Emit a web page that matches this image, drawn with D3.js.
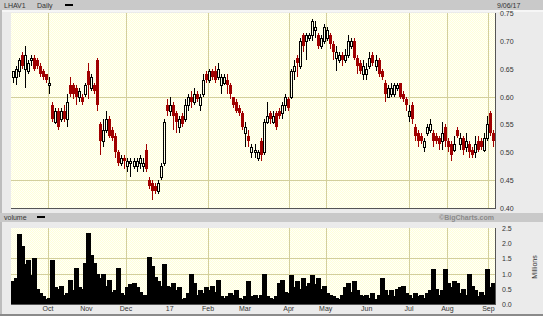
<!DOCTYPE html>
<html><head><meta charset="utf-8">
<script src="https://cdn.jsdelivr.net/npm/d3@7"></script>
<style>html,body{margin:0;padding:0;background:#ebebeb;} svg{display:block;}</style>
</head><body><svg id="c" width="543" height="316"></svg>
<script>
// ---------- DATA ----------
const open = [.635,.635,.645,.675,.65,.645,.665,.67,.665,.655, .645,.64,.62,.585,.555,.575,.56,.575,.56,.62,
 .62,.615,.6,.6,.605,.645,.615,.62,.665,.55, .52,.54,.56,.54,.53,.5,.48,.49,.475,.48,
 .475,.475,.48,.475,.505,.45,.445,.44,.43,.455, .48,.585,.575,.585,.57,.545,.565,.56,.585,.6,
 .59,.605,.585,.605,.64,.63,.645,.645,.635,.62, .625,.63,.62,.6,.59,.58,.57,.535,.53,.5,
 .5,.49,.52,.5,.555,.57,.555,.57,.575,.57, .585,.595,.6,.645,.67,.655,.71,.7,.705,.71,
 .72,.71,.69,.7,.705,.71,.695,.67,.665,.675, .665,.675,.69,.7,.67,.66,.64,.64,.655,.675,
 .655,.665,.645,.625,.6,.605,.605,.615,.625,.605, .595,.565,.585,.545,.535,.53,.51,.535,.54,.535,
 .53,.525,.52,.545,.52,.515,.505,.54,.515,.525, .51,.515,.505,.5,.52,.52,.505,.525,.57,.535];
const high = [.645,.655,.67,.68,.69,.665,.675,.675,.67,.66, .65,.64,.635,.59,.58,.58,.58,.585,.605,.635,
 .625,.62,.615,.605,.625,.66,.64,.625,.67,.555, .56,.575,.565,.545,.535,.505,.495,.495,.49,.49,
 .49,.49,.495,.49,.515,.455,.45,.445,.45,.48, .56,.595,.6,.59,.575,.565,.57,.595,.605,.61,
 .615,.61,.605,.64,.645,.65,.65,.655,.66,.64, .64,.64,.625,.6,.595,.585,.575,.555,.54,.515,
 .515,.505,.525,.56,.59,.575,.575,.575,.58,.59, .605,.6,.65,.665,.675,.705,.715,.715,.715,.74,
 .735,.715,.71,.73,.725,.715,.7,.69,.68,.68, .685,.71,.705,.705,.675,.665,.665,.66,.68,.68,
 .675,.67,.65,.63,.62,.625,.625,.625,.625,.61, .6,.585,.59,.55,.54,.535,.525,.55,.56,.54,
 .535,.53,.555,.55,.525,.52,.53,.545,.535,.53, .535,.52,.51,.53,.53,.525,.535,.565,.575,.54];
const low = [.625,.62,.635,.65,.615,.64,.655,.645,.65,.635, .63,.625,.605,.555,.55,.54,.555,.555,.545,.6,
 .595,.585,.59,.585,.6,.595,.61,.605,.575,.495, .51,.535,.525,.52,.49,.475,.475,.47,.465,.455,
 .47,.465,.47,.465,.465,.435,.415,.425,.425,.45, .475,.565,.565,.54,.535,.535,.545,.555,.575,.58,
 .585,.59,.575,.6,.625,.625,.63,.625,.63,.605, .62,.605,.595,.58,.57,.565,.54,.51,.51,.49,
 .49,.485,.485,.495,.55,.55,.55,.54,.56,.56, .575,.575,.595,.63,.635,.65,.68,.665,.7,.7,
 .705,.685,.685,.695,.7,.685,.665,.645,.66,.655, .66,.67,.685,.665,.64,.64,.63,.63,.65,.655,
 .645,.635,.63,.59,.6,.6,.6,.61,.595,.59, .575,.555,.55,.52,.51,.515,.5,.53,.535,.51,
 .515,.505,.505,.51,.5,.485,.5,.525,.505,.495, .5,.49,.49,.49,.5,.505,.5,.52,.53,.51];
const close = [.645,.65,.665,.655,.675,.66,.67,.65,.655,.64, .635,.63,.625,.56,.575,.545,.575,.56,.59,.605,
 .605,.6,.61,.59,.62,.62,.635,.61,.585,.52, .54,.56,.53,.525,.5,.48,.49,.485,.485,.485,
 .485,.485,.49,.48,.47,.44,.43,.43,.445,.475, .555,.575,.585,.565,.555,.56,.55,.585,.6,.59,
 .605,.595,.6,.63,.63,.645,.635,.63,.65,.635, .635,.62,.605,.585,.575,.57,.545,.545,.52,.51,
 .505,.5,.495,.555,.565,.56,.565,.545,.565,.585, .6,.58,.645,.655,.66,.7,.69,.71,.71,.735,
 .725,.69,.705,.725,.72,.695,.68,.68,.675,.665, .675,.7,.7,.67,.655,.645,.655,.65,.67,.66,
 .665,.64,.635,.605,.615,.615,.62,.62,.6,.595, .585,.575,.56,.53,.52,.52,.52,.545,.55,.52,
 .52,.515,.535,.52,.51,.495,.515,.53,.525,.505, .52,.5,.495,.515,.505,.51,.525,.55,.535,.52];
const volume = [.75,.85,2.3,1.9,1.3,1.45,.95,1.5,.5,.35, .25,.15,.2,1.45,.55,.5,.6,.3,.35,.8,
 .45,1.2,.55,.5,1.35,2.35,1.6,1.35,1.0,.85, 1.0,.6,.8,.4,.45,1.2,.35,.3,.55,.65,
 .7,.55,.4,.3,.3,1.55,1.25,.9,.75,.6, 1.3,.6,.55,.7,.45,.55,.15,.2,.35,1.0,
 .7,.3,.45,.35,.55,.45,.6,.4,.8,.25, .2,.25,.35,.3,.45,.2,.15,.25,.75,.25,
 .3,.2,.3,1.0,.25,.2,.15,.25,.7,.8, .4,.35,.95,.55,.75,.5,.85,.6,.7,.95,
 .65,.85,.5,.6,.35,.3,.25,.2,.15,.3, .55,.7,.4,.75,.45,.3,.25,.3,.2,.35,
 .15,.3,.85,.45,.3,.45,.25,.5,.55,.6, .35,.3,.2,.35,.25,.3,.2,.35,.45,1.15,
 .5,.3,.45,1.15,.7,.55,.75,.7,.35,.5, .3,1.0,.6,.45,.25,.4,.3,1.15,.55,.7];
const monthLabels = ["Oct","Nov","Dec","17","Feb","Mar","Apr","May","Jun","Jul","Aug","Sep"];
const monthDates = ["2016-10-03","2016-11-01","2016-12-01","2017-01-03","2017-02-01","2017-03-01",
 "2017-04-03","2017-05-01","2017-06-01","2017-07-03","2017-08-01","2017-09-01"];
const gridMonths = ["Oct","Dec","Feb","Apr","May","Jul","Aug","Sep"];
const priceTicks = [0.40,0.45,0.50,0.55,0.60,0.65,0.70,0.75];
const priceGrid = [0.45,0.60];
const volTicks = [0,0.5,1.0,1.5,2.0,2.5];
const volGrid = [1.0,1.5];
const symbol = "LHAV1", period = "Daily", dateText = "9/06/17";

// ---------- LAYOUT ----------
const W=543,H=316,L=11,R=495,pTop=13,pBot=208,vTop=228,vBot=304;
const N = close.length;
const svg = d3.select("#c");
const font = "'Liberation Sans', Arial, sans-serif";
const parse = d3.utcParse("%Y-%m-%d");
const xT = d3.scaleUtc().domain([parse("2016-09-05"), parse("2017-09-06")]).range([L,R]);
const xB = d3.scaleLinear().domain([-0.5, N-0.5]).range([L,R]);
const yP = d3.scaleLinear().domain([0.40,0.75]).range([pBot,pTop]);
const yV = d3.scaleLinear().domain([0,2.5]).range([vBot,vTop]);

const defs = svg.append("defs");
const pat = defs.append("pattern").attr("id","dots").attr("width",2).attr("height",2).attr("patternUnits","userSpaceOnUse");
pat.append("rect").attr("width",2).attr("height",2).attr("fill","#fffffa");
pat.append("rect").attr("x",0).attr("y",0).attr("width",1).attr("height",1).attr("fill","#ffffd8");
pat.append("rect").attr("x",1).attr("y",1).attr("width",1).attr("height",1).attr("fill","#ffffd8");

svg.append("rect").attr("width",W).attr("height",H).attr("fill","#ebebeb");
svg.append("rect").attr("x",0).attr("y",0).attr("width",W).attr("height",10).attr("fill","#c9c9c9");
svg.append("rect").attr("x",0).attr("y",10).attr("width",W).attr("height",2).attr("fill","#f6f6f6");
svg.append("rect").attr("x",0).attr("y",10).attr("width",2).attr("height",H-10).attr("fill","#bdbdbd");
svg.append("rect").attr("x",0).attr("y",213).attr("width",W).attr("height",9).attr("fill","#c9c9c9");
svg.append("rect").attr("x",0).attr("y",314).attr("width",W).attr("height",2).attr("fill","#8a8a8a");

// panels
[[pTop,pBot],[vTop,vBot]].forEach(([t,b])=>{
  svg.append("rect").attr("x",L).attr("y",t).attr("width",R-L).attr("height",b-t).attr("fill","url(#dots)");
});
const gridColor = "#d3cf9c";
const g = svg.append("g").attr("shape-rendering","crispEdges");
priceGrid.forEach(v=>g.append("line").attr("x1",L).attr("x2",R).attr("y1",Math.round(yP(v))+0.5).attr("y2",Math.round(yP(v))+0.5).attr("stroke",gridColor));
volGrid.forEach(v=>g.append("line").attr("x1",L).attr("x2",R).attr("y1",Math.round(yV(v))+0.5).attr("y2",Math.round(yV(v))+0.5).attr("stroke",gridColor));
monthLabels.forEach((m,k)=>{
  if(!gridMonths.includes(m)) return;
  const x = Math.round(xT(parse(monthDates[k])))+0.5;
  g.append("line").attr("x1",x).attr("x2",x).attr("y1",pTop).attr("y2",pBot).attr("stroke",gridColor);
  g.append("line").attr("x1",x).attr("x2",x).attr("y1",vTop).attr("y2",vBot).attr("stroke",gridColor);
});

// candles
const red = "#a00000";
const c = svg.append("g").attr("shape-rendering","crispEdges");
for(let i=0;i<N;i++){
  const cx = Math.round(xB(i));
  const up = close[i] >= open[i];
  const yTop = Math.round(yP(Math.max(open[i],close[i])));
  const yBot = Math.round(yP(Math.min(open[i],close[i])));
  const yH = Math.round(yP(high[i])), yL = Math.round(yP(low[i]));
  if(up){
    if(yTop>yH) c.append("line").attr("x1",cx+0.5).attr("x2",cx+0.5).attr("y1",yH).attr("y2",yTop).attr("stroke","#000");
    if(yL>yBot) c.append("line").attr("x1",cx+0.5).attr("x2",cx+0.5).attr("y1",yBot).attr("y2",yL).attr("stroke","#000");
    c.append("rect").attr("x",cx-0.5).attr("y",yTop+0.5).attr("width",2).attr("height",Math.max(0,yBot-yTop))
      .attr("fill","none").attr("stroke","#000");
  } else {
    c.append("line").attr("x1",cx+0.5).attr("x2",cx+0.5).attr("y1",yH).attr("y2",yL).attr("stroke",red);
    c.append("rect").attr("x",cx-1).attr("y",yTop).attr("width",3).attr("height",Math.max(1,yBot-yTop)).attr("fill",red);
  }
}

// volume
const bw = (R-L)/N;
svg.append("g").attr("shape-rendering","crispEdges").selectAll("rect").data(volume).join("rect")
  .attr("x",(d,i)=>Math.floor(xB(i)-bw/2)).attr("width",Math.ceil(bw)+0.5)
  .attr("y",d=>yV(d)).attr("height",d=>vBot-yV(d)).attr("fill","#000");

// borders
const b = svg.append("g").attr("shape-rendering","crispEdges").attr("stroke","#555");
b.append("line").attr("x1",L).attr("x2",R+1).attr("y1",pBot+0.5).attr("y2",pBot+0.5);
b.append("line").attr("x1",R+0.5).attr("x2",R+0.5).attr("y1",pTop).attr("y2",pBot+1);
b.append("line").attr("x1",L).attr("x2",R+1).attr("y1",vBot+0.5).attr("y2",vBot+0.5);
b.append("line").attr("x1",R+0.5).attr("x2",R+0.5).attr("y1",vTop).attr("y2",vBot+1);

// texts
const t = svg.append("g").attr("font-family",font).attr("font-size","7px").attr("fill","#333");
t.append("text").attr("x",4).attr("y",8).text(symbol);
t.append("text").attr("x",37).attr("y",8).text(period);
svg.append("rect").attr("x",65).attr("y",4).attr("width",8).attr("height",2).attr("fill","#000");
t.append("text").attr("x",497).attr("y",8).text(dateText);
t.append("text").attr("x",4).attr("y",220).text("volume");
svg.append("rect").attr("x",37).attr("y",216).attr("width",8).attr("height",2).attr("fill","#000");
t.append("text").attr("x",494).attr("y",220).attr("text-anchor","end").attr("font-weight","bold").attr("fill","#8a8a8a").text("©BigCharts.com");
priceTicks.forEach(v=>t.append("text").attr("x",500).attr("y",yP(v)+3).text(d3.format(".2f")(v)));
volTicks.forEach(v=>t.append("text").attr("x",502).attr("y",yV(v)+3).text(d3.format(".1f")(v)));
t.append("text").attr("transform","translate(537,267) rotate(-90)").attr("text-anchor","middle").text("Millions");
monthLabels.forEach((m,k)=>t.append("text").attr("x",xT(parse(monthDates[k]))).attr("y",311).attr("text-anchor","middle").text(m));
</script></body></html>
